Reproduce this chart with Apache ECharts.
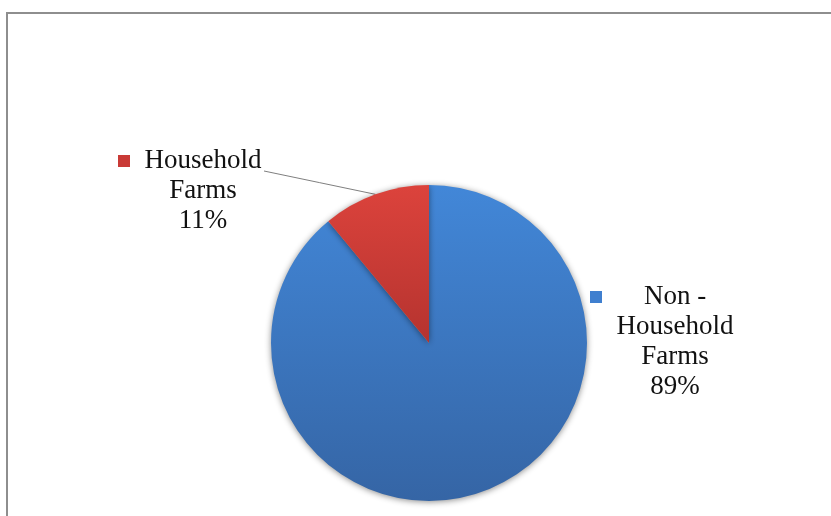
<!DOCTYPE html>
<html>
<head>
<meta charset="utf-8">
<script src="https://cdn.jsdelivr.net/npm/echarts@6/dist/echarts.min.js"></script>
<style>
html,body{margin:0;padding:0;background:#fff;}
#chart{width:831px;height:516px;}
</style>
</head>
<body>
<div id="chart"></div>
<script>
const categories = ['Non -\nHousehold\nFarms', 'Household\nFarms'];
const values = [89, 11];
const percentLabels = ['89%', '11%'];

const colors = [
  new echarts.graphic.LinearGradient(0, 0, 0, 1, [{offset:0,color:'#4287d8'},{offset:1,color:'#3565a5'}]),
  new echarts.graphic.LinearGradient(0, 0, 0, 1, [{offset:0,color:'#dc433c'},{offset:1,color:'#b5332f'}])
];
const markerColors = ['#3f7fcf', '#c93a36'];

const chart = echarts.init(document.getElementById('chart'), null, {renderer:'canvas'});

function labelText(i) {
  const lines = categories[i].split('\n').concat([percentLabels[i]]);
  return lines.map((ln, k) => (k === 0 ? '{m' + i + '| }{g| }' : '{s| }') + '{w|' + ln + '}').join('\n');
}

const font = '"Liberation Serif","Times New Roman",serif';

chart.setOption({
  animation: false,
  backgroundColor: '#ffffff',
  graphic: [{
    type: 'rect',
    shape: {x: 7, y: 13, width: 1000, height: 1000},
    style: {fill: 'none', stroke: '#8e8e8e', lineWidth: 2}
  }],
  series: [{
    type: 'pie',
    center: [429, 343],
    radius: [0, 158],
    startAngle: 90,
    clockwise: true,
    itemStyle: {
      shadowBlur: 6,
      shadowColor: 'rgba(0,0,0,0.45)',
      shadowOffsetY: 1
    },
    label: {
      show: true,
      position: 'outside',
      formatter: p => labelText(p.dataIndex),
      fontFamily: font,
      fontSize: 27,
      color: '#111111',
      lineHeight: 30,
      rich: {
        w: {width: 126, align: 'center', fontFamily: font, fontSize: 27, color: '#111111', lineHeight: 30},
        g: {width: 10},
        s: {width: 22},
        m0: {width: 12, height: 12, backgroundColor: markerColors[0]},
        m1: {width: 12, height: 12, backgroundColor: markerColors[1]}
      }
    },
    labelLine: {
      show: true,
      lineStyle: {color: '#7f7f7f', width: 1}
    },
    labelLayout: function (params) {
      if (params.dataIndex === 0) {
        return {x: 590, y: 282, align: 'left', verticalAlign: 'top'};
      }
      const start = params.labelLinePoints ? params.labelLinePoints[0] : [376, 195];
      const end = [264, 171];
      return {
        x: 118, y: 146, align: 'left', verticalAlign: 'top',
        labelLinePoints: [start, [(start[0] + end[0]) / 2, (start[1] + end[1]) / 2], end]
      };
    },
    data: values.map((v, i) => ({
      name: categories[i],
      value: v,
      itemStyle: {color: colors[i]},
      labelLine: {show: i === 1}
    }))
  }]
});
</script>
</body>
</html>
